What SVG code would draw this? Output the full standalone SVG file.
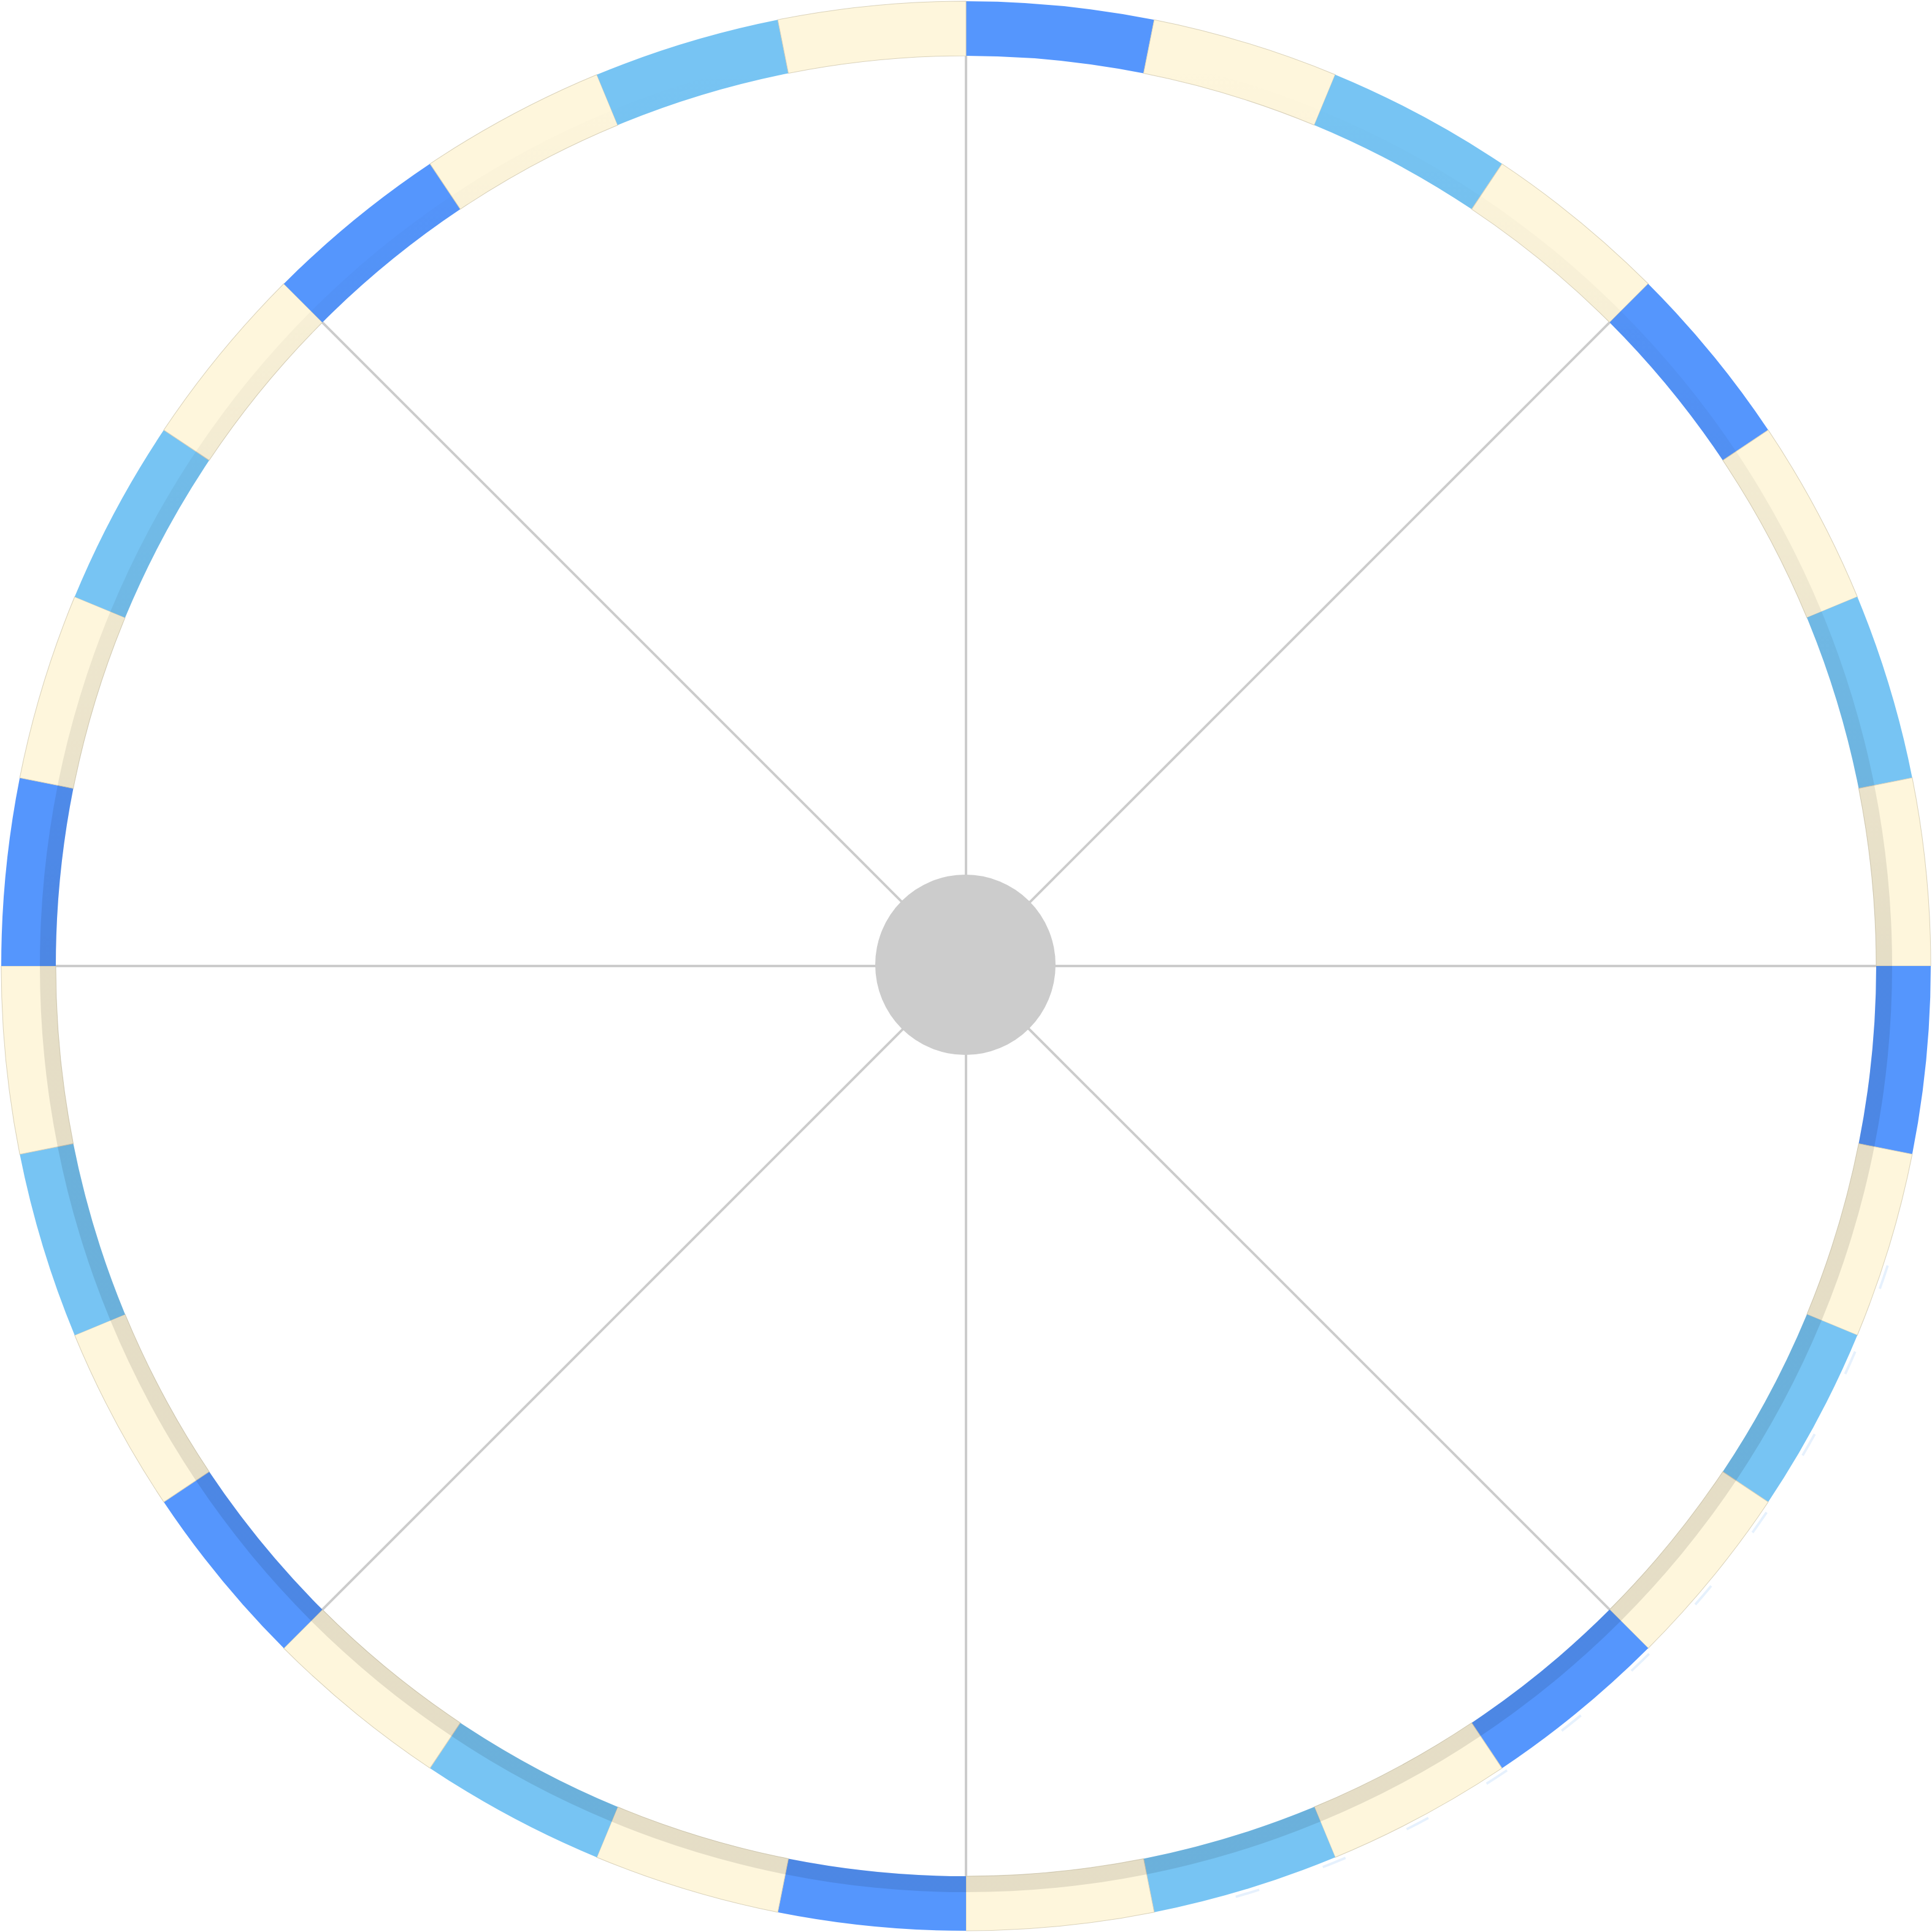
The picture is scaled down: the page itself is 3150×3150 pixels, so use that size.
<svg xmlns="http://www.w3.org/2000/svg" xmlns:xlink="http://www.w3.org/1999/xlink" width="3150" height="3150" viewBox="0 0 3150 3150">
<style>
.dark{fill:#5596fd}
.light{fill:#77c4f3}
.cream{fill:#fef6dc;stroke:#d9d1b9;stroke-width:1}
.spoke{stroke:#cccccc;stroke-width:4;fill:none}
</style>
<defs>
<path id="seg" d="M1575,2 A1573,1573 0 0 1 1881.88,32.23 L1864.51,119.51 A1484,1484 0 0 0 1575,91 Z"/>
<linearGradient id="shade" gradientUnits="userSpaceOnUse" x1="0" y1="91" x2="0" y2="1575">
<stop offset="0" stop-color="#000" stop-opacity="0"/>
<stop offset="1" stop-color="#000" stop-opacity="0.1"/>
</linearGradient>
</defs>
<rect width="3150" height="3150" fill="#ffffff"/>
<g id="connectors">
<line class="spoke" x1="1575" y1="1575" x2="1575" y2="91"/>
<line class="spoke" x1="1575" y1="1575" x2="1575" y2="3059"/>
<line class="spoke" x1="1575" y1="1575" x2="91" y2="1575"/>
<line class="spoke" x1="1575" y1="1575" x2="3059" y2="1575"/>
<line class="spoke" x1="1575" y1="1575" x2="2624.4" y2="525.6"/>
<line class="spoke" x1="1575" y1="1575" x2="525.6" y2="525.6"/>
<line class="spoke" x1="1575" y1="1575" x2="2624.4" y2="2624.4"/>
<line class="spoke" x1="1575" y1="1575" x2="525.6" y2="2624.4"/>
</g>
<g id="ring">
<use xlink:href="#seg" class="dark" transform="rotate(0 1575 1575)"/>
<use xlink:href="#seg" class="cream" transform="rotate(11.25 1575 1575)"/>
<use xlink:href="#seg" class="light" transform="rotate(22.5 1575 1575)"/>
<use xlink:href="#seg" class="cream" transform="rotate(33.75 1575 1575)"/>
<use xlink:href="#seg" class="dark" transform="rotate(45 1575 1575)"/>
<use xlink:href="#seg" class="cream" transform="rotate(56.25 1575 1575)"/>
<use xlink:href="#seg" class="light" transform="rotate(67.5 1575 1575)"/>
<use xlink:href="#seg" class="cream" transform="rotate(78.75 1575 1575)"/>
<use xlink:href="#seg" class="dark" transform="rotate(90 1575 1575)"/>
<use xlink:href="#seg" class="cream" transform="rotate(101.25 1575 1575)"/>
<use xlink:href="#seg" class="light" transform="rotate(112.5 1575 1575)"/>
<use xlink:href="#seg" class="cream" transform="rotate(123.75 1575 1575)"/>
<use xlink:href="#seg" class="dark" transform="rotate(135 1575 1575)"/>
<use xlink:href="#seg" class="cream" transform="rotate(146.25 1575 1575)"/>
<use xlink:href="#seg" class="light" transform="rotate(157.5 1575 1575)"/>
<use xlink:href="#seg" class="cream" transform="rotate(168.75 1575 1575)"/>
<use xlink:href="#seg" class="dark" transform="rotate(180 1575 1575)"/>
<use xlink:href="#seg" class="cream" transform="rotate(191.25 1575 1575)"/>
<use xlink:href="#seg" class="light" transform="rotate(202.5 1575 1575)"/>
<use xlink:href="#seg" class="cream" transform="rotate(213.75 1575 1575)"/>
<use xlink:href="#seg" class="dark" transform="rotate(225 1575 1575)"/>
<use xlink:href="#seg" class="cream" transform="rotate(236.25 1575 1575)"/>
<use xlink:href="#seg" class="light" transform="rotate(247.5 1575 1575)"/>
<use xlink:href="#seg" class="cream" transform="rotate(258.75 1575 1575)"/>
<use xlink:href="#seg" class="dark" transform="rotate(270 1575 1575)"/>
<use xlink:href="#seg" class="cream" transform="rotate(281.25 1575 1575)"/>
<use xlink:href="#seg" class="light" transform="rotate(292.5 1575 1575)"/>
<use xlink:href="#seg" class="cream" transform="rotate(303.75 1575 1575)"/>
<use xlink:href="#seg" class="dark" transform="rotate(315 1575 1575)"/>
<use xlink:href="#seg" class="cream" transform="rotate(326.25 1575 1575)"/>
<use xlink:href="#seg" class="light" transform="rotate(337.5 1575 1575)"/>
<use xlink:href="#seg" class="cream" transform="rotate(348.75 1575 1575)"/>
<path d="M1575,91 A1484,1484 0 1 0 1575,3059 A1484,1484 0 1 0 1575,91 Z M1575,65 A1510,1510 0 1 1 1575,3085 A1510,1510 0 1 1 1575,65 Z" fill="url(#shade)" fill-rule="evenodd"/>
<path d="M3077.7,2063.3 A1577,1577 0 0 1 1983.9,3101.2" fill="none" stroke="#d2e6fb" stroke-width="4" stroke-dasharray="40 110" opacity="0.55"/>
</g>
<g id="hub">
<circle cx="1574" cy="1573" r="147" fill="#cccccc"/>
</g>
</svg>
